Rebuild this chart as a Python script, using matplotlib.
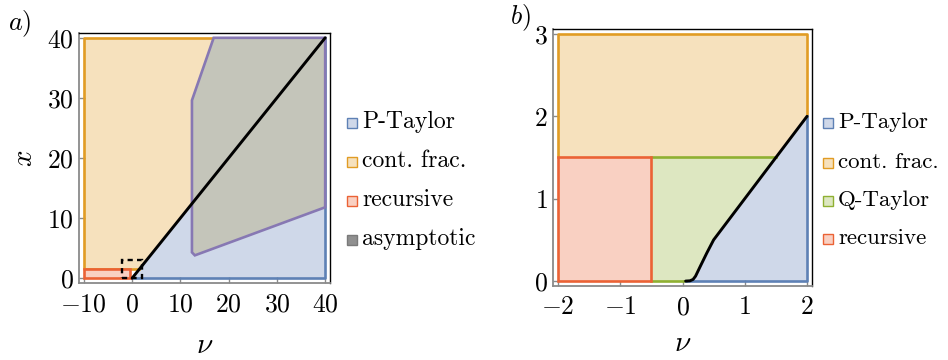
import matplotlib
matplotlib.use('Agg')
import matplotlib.pyplot as plt
from matplotlib.patches import Polygon, Rectangle

plt.rcParams['mathtext.fontset'] = 'cm'
plt.rcParams['font.family'] = ['cmr10', 'DejaVu Serif']
plt.rcParams['axes.unicode_minus'] = False

BLUE = '#5E81B5'; ORANGE = '#E19C24'; GREEN = '#8FB032'; RED = '#EB6235'; PURPLE = '#8778B3'
F_BLUE = '#cfd8e9'; F_ORANGE = '#f6e1bd'; F_GREEN = '#dde7c1'; F_RED = '#f9d0c2'; F_GRAY = '#c4c5ba'

# ---- data: panel a ----
a_xticks = [-10, 0, 10, 20, 30, 40]
a_yticks = [0, 10, 20, 30, 40]
a_nu_range = [-10, 40]
a_x_range = [0, 40]
a_line_nu = [0, 40]
a_line_x = [0, 40]
a_rec_nu = [-10, -0.5]
a_rec_x = [0, 1.5]
a_cf_xmin = 1.5
asym_nu = [12.4, 16.9, 40, 40, 13.0, 12.4]
asym_x = [29.6, 40, 40, 11.8, 3.8, 4.3]
zoom_box_nu = [-2, 2]
zoom_box_x = [0, 3]

# ---- data: panel b ----
b_xticks = [-2, -1, 0, 1, 2]
b_yticks = [0, 1, 2, 3]
b_nu_range = [-2, 2]
b_x_range = [0, 3]
curve_nu = [0.05, 0.12, 0.17, 0.21, 0.28, 0.39, 0.5, 1.0, 1.5, 2.0]
curve_x = [0.0, 0.003, 0.02, 0.06, 0.17, 0.34, 0.5, 1.0, 1.5, 2.0]
b_rec_nu = [-2, -0.5]
b_rec_x = [0, 1.5]
b_cf_xmin = 1.5

legend_a = ['P-Taylor', 'cont. frac.', 'recursive', 'asymptotic']
legend_b = ['P-Taylor', 'cont. frac.', 'Q-Taylor', 'recursive']

W, H = 948, 360
fig = plt.figure(figsize=(W/100, H/100), dpi=100)
EW = 1.9

def style(ax, xt, yt):
    for s in ['left', 'bottom']:
        ax.spines[s].set_color('#8a8a8a'); ax.spines[s].set_linewidth(1.3)
    for s in ['top', 'right']:
        ax.spines[s].set_color('black'); ax.spines[s].set_linewidth(1.0)
    ax.set_xticks(xt)
    ax.set_xticklabels([r'$%d$' % v for v in xt])
    ax.set_yticks(yt)
    ax.set_yticklabels([r'$%d$' % v for v in yt])
    ax.tick_params(direction='in', length=4, width=1, color='#8a8a8a', labelsize=18.5, pad=4)
    ax.tick_params(axis='x', pad=7)

def fig_px_ax(l, t, r, b):
    return fig.add_axes([l/W, 1 - b/H, (r-l)/W, (b-t)/H])

# ---------------- panel a ----------------
ax = fig_px_ax(79, 33, 330, 283)
nl, nr = a_nu_range; xb, xt = a_x_range
pad_n = 0.02*(nr-nl); pad_x = 0.02*(xt-xb)
ax.add_patch(Polygon([(nl, a_cf_xmin), (nl, xt), (nr, xt), (a_cf_xmin, a_cf_xmin)], closed=True,
                     facecolor=F_ORANGE, edgecolor='none', zorder=1))
ax.plot([a_cf_xmin, nl, nl, nr], [a_cf_xmin, a_cf_xmin, xt, xt], color=ORANGE, lw=EW, zorder=2)
ax.add_patch(Polygon([(a_line_nu[0], a_line_x[0]), (nr, xb), (a_line_nu[1], a_line_x[1])], closed=True,
                     facecolor=F_BLUE, edgecolor='none', zorder=1))
ax.plot([a_line_nu[0], nr, nr], [xb, xb, xt], color=BLUE, lw=EW, zorder=2)
ax.add_patch(Rectangle((a_rec_nu[0], a_rec_x[0]), a_rec_nu[1]-a_rec_nu[0], a_rec_x[1]-a_rec_x[0],
                       facecolor=F_RED, edgecolor=RED, lw=EW, zorder=3))
ax.add_patch(Polygon(list(zip(asym_nu, asym_x)), closed=True, facecolor=F_GRAY, edgecolor=PURPLE,
                     lw=EW, zorder=4))
ax.plot(a_line_nu, a_line_x, color='black', lw=2.1, zorder=6, solid_capstyle='round')
ax.add_patch(Rectangle((zoom_box_nu[0], zoom_box_x[0]), zoom_box_nu[1]-zoom_box_nu[0],
                       zoom_box_x[1]-zoom_box_x[0], fill=False, edgecolor='black', lw=1.7,
                       linestyle=(0, (2.2, 1.8)), zorder=7))
ax.set_xlim(nl - pad_n, nr + pad_n)
ax.set_ylim(xb - pad_x, xt + pad_x)
style(ax, a_xticks, a_yticks)
ax.set_xlabel(r'$\nu$', fontsize=21, labelpad=12)
ax.set_ylabel(r'$x$', fontsize=21, labelpad=6)
fig.text(8/W, 1 - 30/H, r'$a)$', fontsize=19)

# ---------------- panel b ----------------
bx = fig_px_ax(553, 29, 812, 286)
nl, nr = b_nu_range; xb, xt = b_x_range
pad_n = 0.02*(nr-nl); pad_x = 0.02*(xt-xb)
curve = list(zip(curve_nu, curve_x))
below = [p for p in curve if p[1] <= b_cf_xmin]
above = [p for p in curve[::-1] if p[1] >= b_cf_xmin]
bx.add_patch(Polygon([(nl, b_cf_xmin), (nl, xt), (nr, xt)] + above, closed=True,
                     facecolor=F_ORANGE, edgecolor='none', zorder=1))
bx.plot([nl, nl, nr, nr], [b_cf_xmin, xt, xt, curve_x[-1]], color=ORANGE, lw=EW, zorder=2)
bx.add_patch(Polygon([(b_rec_nu[1], b_rec_x[0])] + below + [(b_rec_nu[1], b_cf_xmin)], closed=True,
                     facecolor=F_GREEN, edgecolor='none', zorder=1))
bx.plot([curve_nu[0], b_rec_nu[1]], [xb, xb], color=GREEN, lw=EW, zorder=2)
bx.plot([b_rec_nu[1], below[-1][0]], [b_cf_xmin, b_cf_xmin], color=GREEN, lw=EW, zorder=2)
bx.add_patch(Polygon([(curve_nu[0], xb), (nr, xb)] + curve[::-1], closed=True,
                     facecolor=F_BLUE, edgecolor='none', zorder=1))
bx.plot([curve_nu[0], nr, nr], [xb, xb, curve_x[-1]], color=BLUE, lw=EW, zorder=2)
bx.add_patch(Rectangle((b_rec_nu[0], b_rec_x[0]), b_rec_nu[1]-b_rec_nu[0], b_rec_x[1]-b_rec_x[0],
                       facecolor=F_RED, edgecolor=RED, lw=EW, zorder=3))
bx.plot(curve_nu, curve_x, color='black', lw=2.1, zorder=6, solid_capstyle='round')
bx.set_xlim(nl - pad_n, nr + pad_n)
bx.set_ylim(xb - pad_x, xt + pad_x)
style(bx, b_xticks, b_yticks)
bx.set_xlabel(r'$\nu$', fontsize=21, labelpad=8)
fig.text(510/W, 1 - 24/H, r'$b)$', fontsize=19)

# ---------------- legends ----------------
def legend(x0, ys, labels, edges, faces, fs):
    for y, lab, ec, fc in zip(ys, labels, edges, faces):
        fig.add_artist(Rectangle((x0/W, 1 - (y+5)/H), 10/W, 10/H, transform=fig.transFigure,
                                 facecolor=fc, edgecolor=ec, lw=1.0))
        fig.text((x0+15)/W, 1 - (y+5)/H, lab, fontsize=fs, va='baseline', ha='left')

legend(347, [123, 162, 201, 240], legend_a, [BLUE, ORANGE, RED, '#7a7a7a'],
       [F_BLUE, F_ORANGE, F_RED, '#909090'], 17)
legend(823, [123, 163, 201, 239], legend_b, [BLUE, ORANGE, GREEN, RED],
       [F_BLUE, F_ORANGE, F_GREEN, F_RED], 16.5)

fig.savefig('out.png', dpi=100)
